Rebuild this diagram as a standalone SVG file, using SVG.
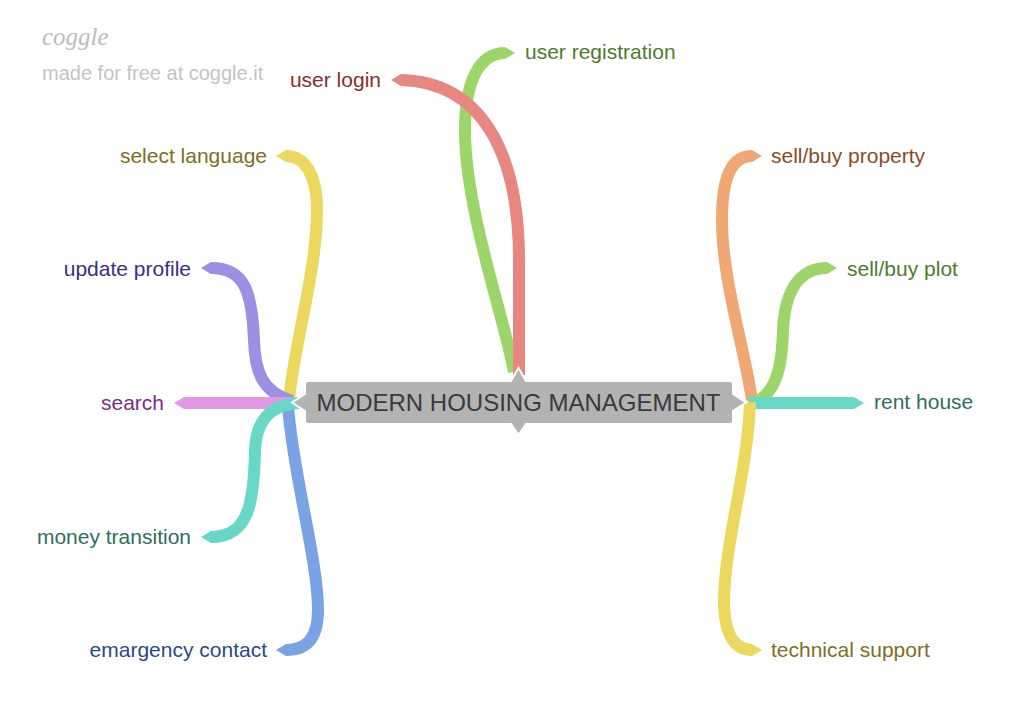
<svg xmlns="http://www.w3.org/2000/svg" width="1010" height="709" viewBox="0 0 1010 709">
<style>
.br{fill:none;stroke-width:12;stroke-linecap:butt;stroke-linejoin:round}
.lbl{font-family:"Liberation Sans",Arial,sans-serif;font-size:21px}
.r{text-anchor:end}
</style>
<rect width="1010" height="709" fill="#ffffff"/>
<g id="watermark">
<text x="42" y="45" font-family="Liberation Serif, serif" font-style="italic" font-size="25" fill="#bdbdbd">coggle</text>
<text x="42" y="80" font-family="Liberation Sans, Arial, sans-serif" font-size="20" fill="#c4c4c4">made for free at coggle.it</text>
</g>
<g id="connectors">
<!-- top -->
<path class="br" stroke="#9ed56b" d="M514,372 C505,320 465,210 465,130 C465,80 480,53 505,53"/>
<polygon fill="#9ed56b" points="505,47 515,53 505,59"/>
<path class="br" stroke="#e68782" d="M519,375 L519,260 C519,150 480,82 401,80"/>
<polygon fill="#e68782" points="401,74 391,80 401,86"/>
<!-- left -->
<path class="br" stroke="#ebd95f" d="M289,400 C295,340 317,270 317,210 C317,175 305,156 286,156"/>
<polygon fill="#ebd95f" points="286,150 276,156 286,162"/>
<path class="br" stroke="#9b90e3" d="M292,401 C262,392 255,372 254,340 C252,292 245,268 211,268"/>
<polygon fill="#9b90e3" points="211,262 201,268 211,274"/>
<path class="br" stroke="#e29ae6" d="M292,403 L184,403"/>
<polygon fill="#e29ae6" points="184,397 174,403 184,409"/>
<path class="br" stroke="#7aa3e5" d="M288,405 C292,470 318,560 318,610 C318,640 305,650 286,650"/>
<polygon fill="#7aa3e5" points="286,644 276,650 286,656"/>
<path class="br" stroke="#67d8c5" d="M299,403 C266,405 256,425 255,450 C254,500 250,537 211,537"/>
<polygon fill="#67d8c5" points="211,531 201,537 211,543"/>
<!-- right -->
<path class="br" stroke="#efa873" d="M752,400 C745,350 722,280 722,220 C722,180 730,156 752,156"/>
<polygon fill="#efa873" points="752,150 762,156 752,162"/>
<path class="br" stroke="#9ed56b" d="M752,403 C775,396 782,370 783,330 C785,290 800,268 827,268"/>
<polygon fill="#9ed56b" points="827,262 837,268 827,274"/>
<path class="br" stroke="#67d8c5" d="M748,403 L854,403"/>
<polygon fill="#67d8c5" points="854,397 864,403 854,409"/>
<path class="br" stroke="#ebd95f" d="M750,402 C748,470 725,540 724,600 C724,635 735,650 752,650"/>
<polygon fill="#ebd95f" points="752,644 762,650 752,656"/>
</g>
<g id="center">
<path fill="#b3b3b3" stroke="#ffffff" stroke-width="2" stroke-linejoin="miter" d="M308,381 L511,381 L518.5,368 L526,381 L730,381 Q733,381 733,384 L733,394 L746,402.5 L733,411 L733,421 Q733,424 730,424 L526,424 L518.5,435 L511,424 L308,424 Q305,424 305,421 L305,411 L292,402.5 L305,394 L305,384 Q305,381 308,381 Z"/>
<text x="518.5" y="411" text-anchor="middle" font-family="Liberation Sans, Arial, sans-serif" font-size="24" fill="#3a3a3a">MODERN HOUSING MANAGEMENT</text>
</g>
<g id="n-user-login"><text class="lbl r" x="381" y="87" fill="#87302b">user login</text></g>
<g id="n-user-registration"><text class="lbl" x="525" y="59" fill="#4f7a2b">user registration</text></g>
<g id="n-select-language"><text class="lbl r" x="267" y="163" fill="#7d6f22">select language</text></g>
<g id="n-update-profile"><text class="lbl r" x="191" y="276" fill="#3b2e82">update profile</text></g>
<g id="n-search"><text class="lbl r" x="164" y="410" fill="#7b2d84">search</text></g>
<g id="n-money-transition"><text class="lbl r" x="191" y="544" fill="#2e6e5e">money transition</text></g>
<g id="n-emargency-contact"><text class="lbl r" x="267" y="657" fill="#2b4a85">emargency contact</text></g>
<g id="n-sell-buy-property"><text class="lbl" x="771" y="163" fill="#8a4d22">sell/buy property</text></g>
<g id="n-sell-buy-plot"><text class="lbl" x="847" y="276" fill="#4f7a2b">sell/buy plot</text></g>
<g id="n-rent-house"><text class="lbl" x="874" y="409" fill="#2e6e5e">rent house</text></g>
<g id="n-technical-support"><text class="lbl" x="771" y="657" fill="#7d6f22">technical support</text></g>
</svg>
